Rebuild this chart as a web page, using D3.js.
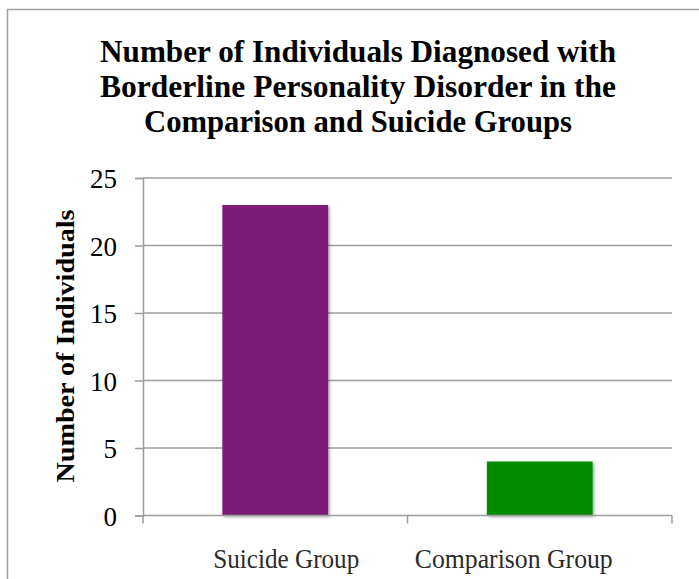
<!DOCTYPE html>
<html>
<head>
<meta charset="utf-8">
<script src="https://cdn.jsdelivr.net/npm/d3@7"></script>
<style>
  body { margin: 0; background: #fff; }
  svg text { font-family: "Liberation Serif", "DejaVu Serif", serif; }
</style>
</head>
<body>
<svg width="699" height="579"></svg>
<script>
var categories = ["Suicide Group", "Comparison Group"];
var values = [23, 4];
var barColors = ["#7b1a78", "#008a00"];
var yTicks = [0, 5, 10, 15, 20, 25];
var titleLines = ["Number of Individuals Diagnosed with",
                  "Borderline Personality Disorder in the",
                  "Comparison and Suicide Groups"];
var yTitle = "Number of Individuals";

var svg = d3.select("svg"),
    plotLeft = 143, plotRight = 672, plotTop = 178, plotBottom = 515.5;

// outer frame
svg.append("rect")
  .attr("x", 7.5).attr("y", 9.5)
  .attr("width", 720).attr("height", 620)
  .attr("fill", "none")
  .attr("stroke", "#a0a0a0")
  .attr("stroke-width", 1.5);

var defs = svg.append("defs");
var f = defs.append("filter").attr("id", "shadow")
  .attr("x", "-10%").attr("y", "-10%").attr("width", "130%").attr("height", "130%");
f.append("feDropShadow")
  .attr("dx", 1.5).attr("dy", 1.5)
  .attr("stdDeviation", 1.5)
  .attr("flood-color", "#000")
  .attr("flood-opacity", 0.35);

var x = d3.scaleBand().domain(categories).range([plotLeft, plotRight])
  .paddingInner(0.6).paddingOuter(0.3);
var y = d3.scaleLinear().domain([0, 25]).range([plotBottom, plotTop]);

// gridlines
svg.append("g").selectAll("line")
  .data(yTicks.filter(d => d > 0))
  .enter().append("line")
  .attr("x1", plotLeft).attr("x2", plotRight)
  .attr("y1", d => y(d)).attr("y2", d => y(d))
  .attr("stroke", "#9c9c9c")
  .attr("stroke-width", 1.5);

// bars
svg.append("g").selectAll("rect")
  .data(values)
  .enter().append("rect")
  .attr("x", (d, i) => x(categories[i]))
  .attr("y", d => y(d))
  .attr("width", x.bandwidth())
  .attr("height", d => y(0) - y(d))
  .attr("fill", (d, i) => barColors[i])
  .attr("filter", "url(#shadow)");

// y axis
var yAxis = svg.append("g")
  .attr("transform", "translate(" + plotLeft + ",0)")
  .call(d3.axisLeft(y).tickValues(yTicks).tickSize(8).tickPadding(18));
yAxis.select(".domain").attr("stroke", "#9c9c9c").attr("stroke-width", 1.5);
yAxis.selectAll(".tick line").attr("stroke", "#9c9c9c").attr("stroke-width", 1.5);
yAxis.selectAll(".tick text")
  .attr("font-family", "Liberation Serif")
  .attr("font-size", 27)
  .attr("fill", "#000")
  .attr("dy", "0.36em");

// x axis: ticks at band edges
var edges = [plotLeft, plotLeft + x.step(), plotRight];
var xAxis = svg.append("g");
xAxis.append("line")
  .attr("x1", plotLeft).attr("x2", plotRight)
  .attr("y1", plotBottom).attr("y2", plotBottom)
  .attr("stroke", "#9c9c9c").attr("stroke-width", 1.5);
xAxis.selectAll(".xt").data(edges).enter().append("line")
  .attr("class", "xt")
  .attr("x1", d => d).attr("x2", d => d)
  .attr("y1", plotBottom).attr("y2", plotBottom + 8)
  .attr("stroke", "#9c9c9c").attr("stroke-width", 1.5);

var labelShift = [11, -26];
var labelLen = [146, 198];
xAxis.selectAll(".xl").data(categories).enter().append("text")
  .attr("class", "xl")
  .attr("x", (d, i) => x(d) + x.bandwidth() / 2 + labelShift[i])
  .attr("y", 568)
  .attr("text-anchor", "middle")
  .attr("font-size", 28)
  .attr("fill", "#2a2a2a")
  .attr("textLength", (d, i) => labelLen[i])
  .attr("lengthAdjust", "spacingAndGlyphs")
  .text(d => d);

// title
var titleLen = [516, 516, 428];
svg.append("g").selectAll("text")
  .data(titleLines)
  .enter().append("text")
  .attr("x", 358)
  .attr("y", (d, i) => 62 + i * 35)
  .attr("text-anchor", "middle")
  .attr("font-size", 31)
  .attr("font-weight", "bold")
  .attr("fill", "#000")
  .attr("textLength", (d, i) => titleLen[i])
  .attr("lengthAdjust", "spacingAndGlyphs")
  .text(d => d);

// y axis title
svg.append("text")
  .attr("transform", "translate(74,346) rotate(-90)")
  .attr("text-anchor", "middle")
  .attr("font-size", 26)
  .attr("font-weight", "bold")
  .attr("fill", "#000")
  .attr("textLength", 273)
  .attr("lengthAdjust", "spacingAndGlyphs")
  .text(yTitle);
</script>
</body>
</html>
